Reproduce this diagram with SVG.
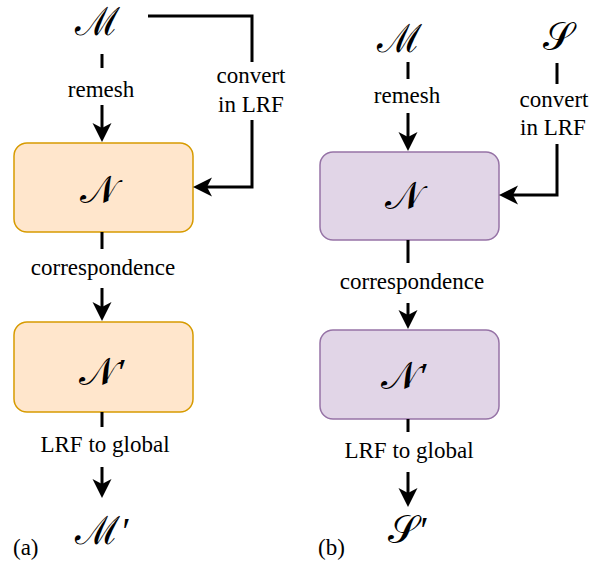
<svg xmlns="http://www.w3.org/2000/svg" width="607" height="563" viewBox="0 0 607 563">
  <style>
    .lbl { font-size: 23px; fill: #000; text-anchor: middle; }
    .cap { font-size: 23px; fill: #000; }
    .math { font-size: 39px; fill: #000; }
    .prime { font-size: 38px; font-style: italic; }
    .edge { fill: none; stroke: #000; stroke-width: 3; }
    .orange { fill: #ffe6cc; stroke: #d79b00; stroke-width: 1.5; }
    .purple { fill: #e1d5e7; stroke: #9673a6; stroke-width: 1.5; }
  </style>
  <defs>
    <marker id="arrow" markerUnits="userSpaceOnUse" markerWidth="20" markerHeight="20" viewBox="0 0 20 20" refX="5" refY="9.5" orient="auto">
      <path d="M0,0 L19,9.5 L0,19 L5,9.5 Z" fill="#000"/>
    </marker>
  </defs>

  <rect width="607" height="563" fill="#fff"/>

  <!-- panel (a) -->
  <g id="a-M"><text class="math" x="75" y="35" font-family="DejaVu Serif, serif">ℳ</text></g>
  <g id="a-N"><rect class="orange" x="14" y="143" width="179" height="89" rx="13"/><text class="math" x="80" y="203" font-family="DejaVu Serif, serif">𝒩</text></g>
  <g id="a-Np"><rect class="orange" x="14" y="322" width="179" height="90" rx="13"/><text class="math" x="79" y="385" font-family="DejaVu Serif, serif">𝒩<tspan class="prime" font-family="Liberation Serif, serif">′</tspan></text></g>
  <g id="a-Mp"><text class="math" x="75" y="544" font-family="DejaVu Serif, serif">ℳ<tspan class="prime" font-family="Liberation Serif, serif">′</tspan></text></g>
  <g id="a-tag"><text class="cap" x="13" y="555" font-family="Liberation Serif">(a)</text></g>

  <!-- panel (b) -->
  <g id="b-M"><text class="math" x="377" y="52" font-family="DejaVu Serif, serif">ℳ</text></g>
  <g id="b-S"><text class="math" x="543" y="50" font-family="DejaVu Serif, serif">𝒮</text></g>
  <g id="b-N"><rect class="purple" x="320" y="152" width="179" height="88" rx="13"/><text class="math" x="385" y="209" font-family="DejaVu Serif, serif">𝒩</text></g>
  <g id="b-Np"><rect class="purple" x="320" y="330" width="179" height="89" rx="13"/><text class="math" x="381" y="389" font-family="DejaVu Serif, serif">𝒩<tspan class="prime" font-family="Liberation Serif, serif">′</tspan></text></g>
  <g id="b-Sp"><text class="math" x="388" y="543" font-family="DejaVu Serif, serif">𝒮<tspan class="prime" font-family="Liberation Serif, serif">′</tspan></text></g>
  <g id="b-tag"><text class="cap" x="318" y="555" font-family="Liberation Serif">(b)</text></g>

  <g id="connectors">
    <!-- (a) M to N, remesh -->
    <line class="edge" x1="102" y1="54" x2="102" y2="68"/>
    <line class="edge" x1="102" y1="105" x2="102" y2="128" marker-end="url(#arrow)"/>
    <!-- (a) M to N, convert in LRF -->
    <polyline class="edge" points="148,16 252,16 252,62"/>
    <polyline class="edge" points="252,120 252,187 207,187" marker-end="url(#arrow)"/>
    <!-- (a) N to N' -->
    <line class="edge" x1="102" y1="232" x2="102" y2="249"/>
    <line class="edge" x1="102" y1="288" x2="102" y2="307" marker-end="url(#arrow)"/>
    <!-- (a) N' to M' -->
    <line class="edge" x1="102" y1="412" x2="102" y2="427"/>
    <line class="edge" x1="102" y1="467" x2="102" y2="484" marker-end="url(#arrow)"/>

    <!-- (b) M to N, remesh -->
    <line class="edge" x1="408" y1="62" x2="408" y2="79"/>
    <line class="edge" x1="408" y1="113" x2="408" y2="137" marker-end="url(#arrow)"/>
    <!-- (b) S to N, convert in LRF -->
    <line class="edge" x1="557" y1="63" x2="557" y2="84"/>
    <polyline class="edge" points="557,144 557,195 513,195" marker-end="url(#arrow)"/>
    <!-- (b) N to N' -->
    <line class="edge" x1="408" y1="240" x2="408" y2="263"/>
    <line class="edge" x1="408" y1="303" x2="408" y2="315" marker-end="url(#arrow)"/>
    <!-- (b) N' to S' -->
    <line class="edge" x1="408" y1="419" x2="408" y2="432"/>
    <line class="edge" x1="408" y1="472" x2="408" y2="493" marker-end="url(#arrow)"/>
  </g>

  <!-- edge labels -->
  <g id="edge-labels">
    <text class="lbl" x="101" y="97" font-family="Liberation Serif">remesh</text>
    <text class="lbl" x="251" y="83" font-family="Liberation Serif">convert</text>
    <text class="lbl" x="251" y="112" font-family="Liberation Serif">in LRF</text>
    <text class="lbl" x="103" y="275" font-family="Liberation Serif">correspondence</text>
    <text class="lbl" x="105" y="452" font-family="Liberation Serif">LRF to global</text>
    <text class="lbl" x="407" y="103" font-family="Liberation Serif">remesh</text>
    <text class="lbl" x="554" y="107" font-family="Liberation Serif">convert</text>
    <text class="lbl" x="553" y="135" font-family="Liberation Serif">in LRF</text>
    <text class="lbl" x="412" y="289" font-family="Liberation Serif">correspondence</text>
    <text class="lbl" x="409" y="458" font-family="Liberation Serif">LRF to global</text>
  </g>
</svg>
